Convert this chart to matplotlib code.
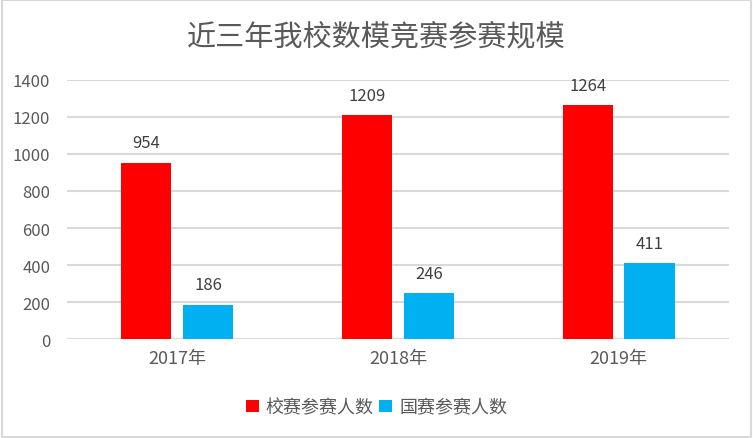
import numpy as np
import matplotlib
matplotlib.use("Agg")
import matplotlib.pyplot as plt
from matplotlib.patches import Rectangle

plt.rcParams['font.family'] = ['Noto Sans CJK SC', 'DejaVu Sans']

years = ["2017年", "2018年", "2019年"]
school = [954, 1209, 1264]
national = [186, 246, 411]

fig = plt.figure(figsize=(7.53, 4.39), dpi=100)
ax = fig.add_axes([0.089, 0.2255, 0.879, 0.59])

x = np.arange(len(years))
w = 0.227
b1 = ax.bar(x - 0.14, school, w, color="#ff0000", label="校赛参赛人数", zorder=3)
b2 = ax.bar(x + 0.14, national, w, color="#00b0f0", label="国赛参赛人数", zorder=3)

for bars in (b1, b2):
    for r in bars:
        ax.text(r.get_x() + r.get_width() / 2, r.get_height() + 60, str(int(r.get_height())),
                ha="center", va="bottom", fontsize=12, color="#404040")

ax.set_xlim(-0.5, 2.5)
ax.set_ylim(0, 1400)
ax.set_yticks(range(0, 1401, 200))
ax.set_xticks(x)
ax.set_xticklabels(years)
ax.tick_params(length=0, labelsize=12, labelcolor="#595959")
ax.tick_params(axis="x", pad=7, labelsize=13)
ax.tick_params(axis="y", pad=12)
ax.grid(axis="y", color="#d9d9d9", linewidth=1.5, zorder=0)
for s in ax.spines.values():
    s.set_visible(False)

fig.text(0.5, 0.915, "近三年我校数模竞赛参赛规模", ha="center", va="center",
         fontsize=21, color="#595959")
fig.legend(loc="center", bbox_to_anchor=(0.5, 0.07), ncol=2, frameon=False,
           fontsize=13, handlelength=0.7, handleheight=0.7, handletextpad=0.4,
           columnspacing=0.3, labelcolor="#595959")

fig.patches.append(Rectangle((0.002, 0.003), 0.995, 0.994, transform=fig.transFigure,
                             fill=False, edgecolor="#d9d9d9", linewidth=1.5))

fig.savefig("out.png", dpi=100)
